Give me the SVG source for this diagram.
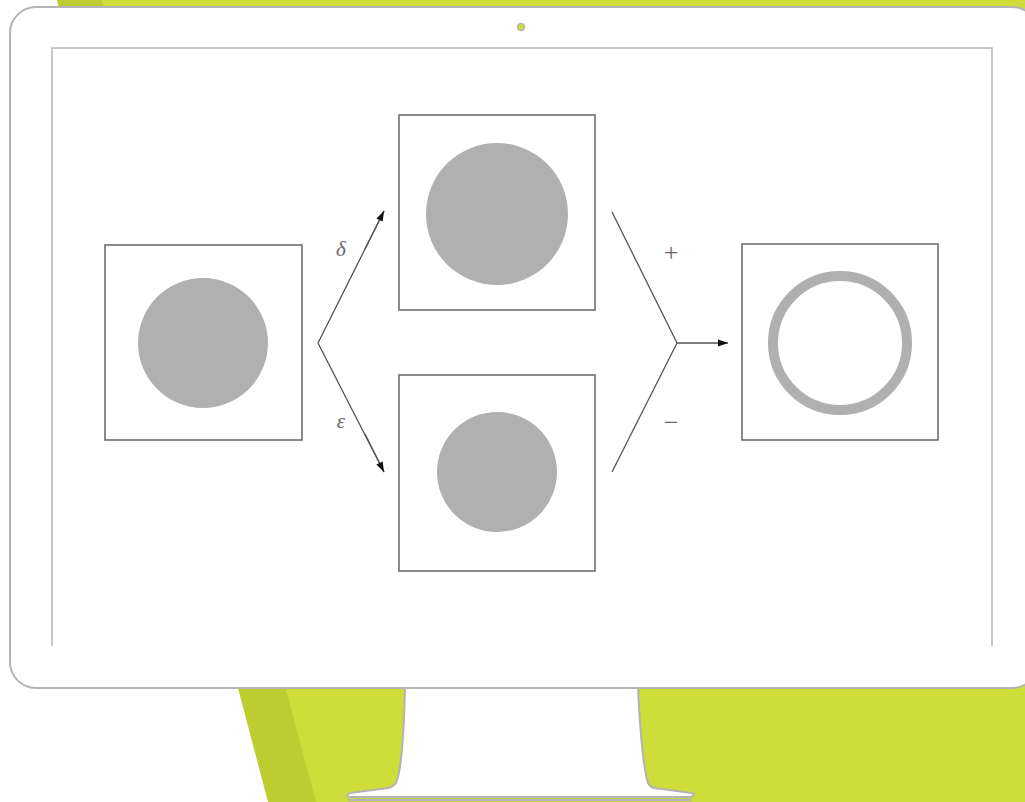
<svg xmlns="http://www.w3.org/2000/svg" width="1025" height="802" viewBox="0 0 1025 802">
<style>
.box{fill:#fff;stroke:#6e6e6e;stroke-width:1.6}
.disc{fill:#b0b0b0}
.ln{fill:none;stroke:#555;stroke-width:1.3}
.lbl{font-family:"Liberation Serif",serif;font-size:21px;fill:#666}
.op{font-family:"Liberation Serif",serif;font-size:26px;fill:#6a6a6a}
.frame{fill:#fff;stroke:#b4b4b4;stroke-width:2}
</style>
<defs>
<marker id="ah" viewBox="0 0 10 10" refX="10" refY="5" markerWidth="14" markerHeight="10" markerUnits="userSpaceOnUse" orient="auto">
<path d="M0,1.5 L10,5 L0,8.5 Z" fill="#111"/>
</marker>
</defs>
<rect width="1025" height="802" fill="#fff"/>
<g id="background">
<polygon points="57,0 1025,0 1025,802 268,802" fill="#bdcc31"/>
<polygon points="102,0 1025,0 1025,802 316,802" fill="#cedd3a"/>
</g>
<g id="stand">
<path d="M405,688 C404,730 402,770 396,783 Q393,787 388,788 L350,793 Q346,795 348,797 L690,797 Q697,795 692,793 L654,788 Q650,787 648,783 C644,770 640,730 638,688 Z" class="frame"/>
<line x1="348" y1="800" x2="692" y2="800" stroke="#b4b4b4" stroke-width="2.5"/>
</g>
<g id="monitor">
<rect x="10" y="7" width="1028" height="681" rx="26" ry="26" class="frame"/>
<circle cx="521" cy="27" r="3.5" fill="#cedd3a" stroke="#b4b4b4" stroke-width="1.5"/>
<path d="M52,646 L52,48 L992,48 L992,646" fill="none" stroke="#b4b4b4" stroke-width="1.5"/>
</g>
<g id="input">
<rect x="105" y="245" width="197" height="195" class="box"/>
<circle cx="203" cy="343" r="65" class="disc"/>
</g>
<g id="dilation">
<rect x="399" y="115" width="196" height="195" class="box"/>
<circle cx="497" cy="214" r="71" class="disc"/>
</g>
<g id="erosion">
<rect x="399" y="375" width="196" height="196" class="box"/>
<circle cx="497" cy="472" r="60" class="disc"/>
</g>
<g id="gradient">
<rect x="742" y="244" width="196" height="196" class="box"/>
<circle cx="840" cy="343" r="67" fill="none" stroke="#b0b0b0" stroke-width="10"/>
</g>
<g id="connectors">
<polyline points="384,211 318,343 384,472" class="ln"/>
<line x1="365" y1="249" x2="384" y2="211" class="ln" marker-end="url(#ah)"/>
<line x1="365" y1="434" x2="384" y2="472" class="ln" marker-end="url(#ah)"/>
<polyline points="612,212 677,343 612,472" class="ln"/>
<line x1="677" y1="343" x2="728" y2="343" class="ln" marker-end="url(#ah)"/>
</g>
<g id="labels">
<text x="341" y="256" class="lbl" font-style="italic" text-anchor="middle">δ</text>
<text x="341" y="428" class="lbl" font-style="italic" text-anchor="middle">ε</text>
<text x="671" y="261" class="op" text-anchor="middle">+</text>
<text x="671" y="431" class="op" text-anchor="middle">−</text>
</g>
</svg>
